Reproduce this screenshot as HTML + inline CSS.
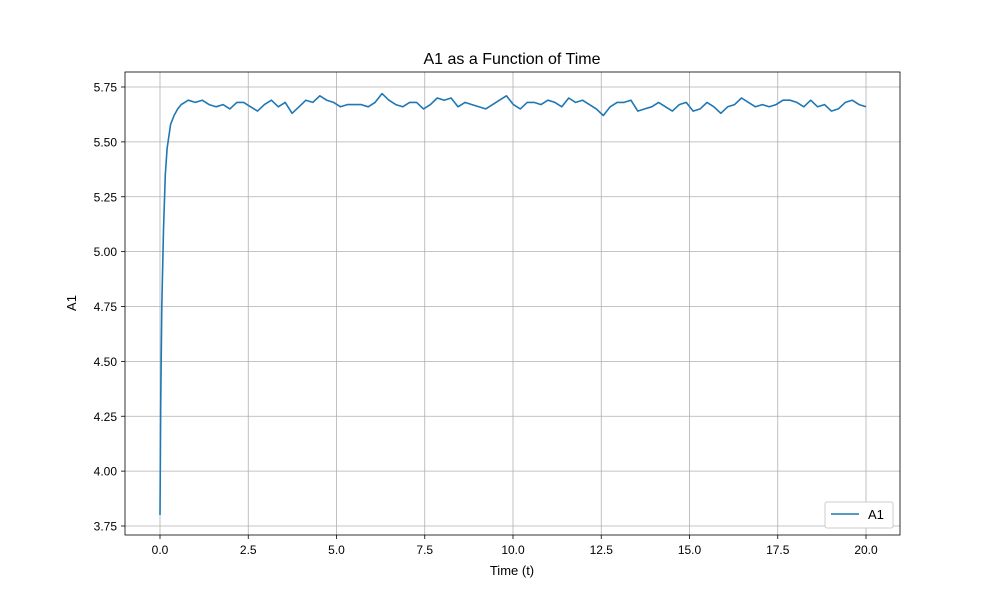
<!DOCTYPE html>
<html><head><meta charset="utf-8"><style>
body{margin:0;background:#fff;}
svg text{font-family:"Liberation Sans","DejaVu Sans",sans-serif;fill:#000;}
</style></head><body>
<svg id="chart" width="1000" height="600" xmlns="http://www.w3.org/2000/svg">
<rect width="1000" height="600" fill="#fff"/>
<g id="grid"></g>
<g id="ticks"></g>
<path id="line" fill="none" stroke="#1f77b4" stroke-width="1.6" stroke-linejoin="round"/>
<rect x="125" y="72" width="775" height="463" fill="none" stroke="#000" stroke-width="0.8"/>
<text x="512" y="64" font-size="16" text-anchor="middle">A1 as a Function of Time</text>
<text x="512" y="575" font-size="13" text-anchor="middle">Time (t)</text>
<text x="76" y="303" font-size="13" text-anchor="middle" transform="rotate(-90 76 303)">A1</text>
<g>
<rect x="825" y="502" width="68" height="26" rx="2" fill="#fff" stroke="#ccc"/>
<line x1="831" y1="514" x2="859" y2="514" stroke="#1f77b4" stroke-width="1.6"/>
<text x="868" y="519" font-size="13">A1</text>
</g>
</svg>
<script>
const xTicks=[0,2.5,5,7.5,10,12.5,15,17.5,20];
const xTickLabels=["0.0","2.5","5.0","7.5","10.0","12.5","15.0","17.5","20.0"];
const yTicks=[3.75,4.0,4.25,4.5,4.75,5.0,5.25,5.5,5.75];
const yTickLabels=["3.75","4.00","4.25","4.50","4.75","5.00","5.25","5.50","5.75"];
const tStart=[0,0.02,0.05,0.1,0.15,0.2,0.3,0.4,0.5,0.6,0.7,0.8];
const aStart=[3.80,4.30,4.75,5.10,5.35,5.47,5.58,5.62,5.65,5.67,5.68,5.69];
const aMain=[5.68,5.69,5.67,5.66,5.67,5.65,5.68,5.68,5.66,5.64,5.67,5.69,5.66,5.68,5.63,5.66,5.69,5.68,5.71,5.69,5.68,5.66,5.67,5.67,5.67,5.66,5.68,5.72,5.69,5.67,5.66,5.68,5.68,5.65,5.67,5.70,5.69,5.70,5.66,5.68,5.67,5.66,5.65,5.67,5.69,5.71,5.67,5.65,5.68,5.68,5.67,5.69,5.68,5.66,5.70,5.68,5.69,5.67,5.65,5.62,5.66,5.68,5.68,5.69,5.64,5.65,5.66,5.68,5.66,5.64,5.67,5.68,5.64,5.65,5.68,5.66,5.63,5.66,5.67,5.70,5.68,5.66,5.67,5.66,5.67,5.69,5.69,5.68,5.66,5.69,5.66,5.67,5.64,5.65,5.68,5.69,5.67,5.66];
const tEnd=20;
const tMain=aMain.map((_,i)=>1.0+i*(tEnd-1.0)/(aMain.length-1));
const X=v=>160+(v-0)*(866-160)/20;
const Y=v=>526-(v-3.75)*(526-87)/2;
const ns="http://www.w3.org/2000/svg";
const grid=document.getElementById('grid'),ticks=document.getElementById('ticks');
function mk(tag,attrs,parent){const e=document.createElementNS(ns,tag);for(const k in attrs)e.setAttribute(k,attrs[k]);parent.appendChild(e);return e;}
xTicks.forEach((v,i)=>{
 const g=mk('line',{x1:X(v),x2:X(v),y1:72,y2:535,stroke:'#b0b0b0','stroke-width':0.8},grid);
 
 
 const t=mk('line',{x1:X(v),x2:X(v),y1:535,y2:539,stroke:'#000','stroke-width':0.8},ticks);
 
 
 const l=mk('text',{x:X(v),y:554,'font-size':12,'text-anchor':'middle'},ticks);l.textContent=xTickLabels[i];
 
 
});
yTicks.forEach((v,i)=>{
 const g=mk('line',{x1:125,x2:900,y1:Y(v),y2:Y(v),stroke:'#b0b0b0','stroke-width':0.8},grid);
 
 
 const t=mk('line',{x1:121,x2:125,y1:Y(v),y2:Y(v),stroke:'#000','stroke-width':0.8},ticks);
 
 
 const l=mk('text',{x:117,y:Y(v)+4.5,'font-size':12,'text-anchor':'end'},ticks);l.textContent=yTickLabels[i];
 
 
});
const ts=tStart.concat(tMain),as=aStart.concat(aMain);
document.getElementById('line').setAttribute('d',ts.map((t,i)=>(i?'L':'M')+X(t).toFixed(1)+' '+Y(as[i]).toFixed(1)).join(' '));
</script>
</body></html>
